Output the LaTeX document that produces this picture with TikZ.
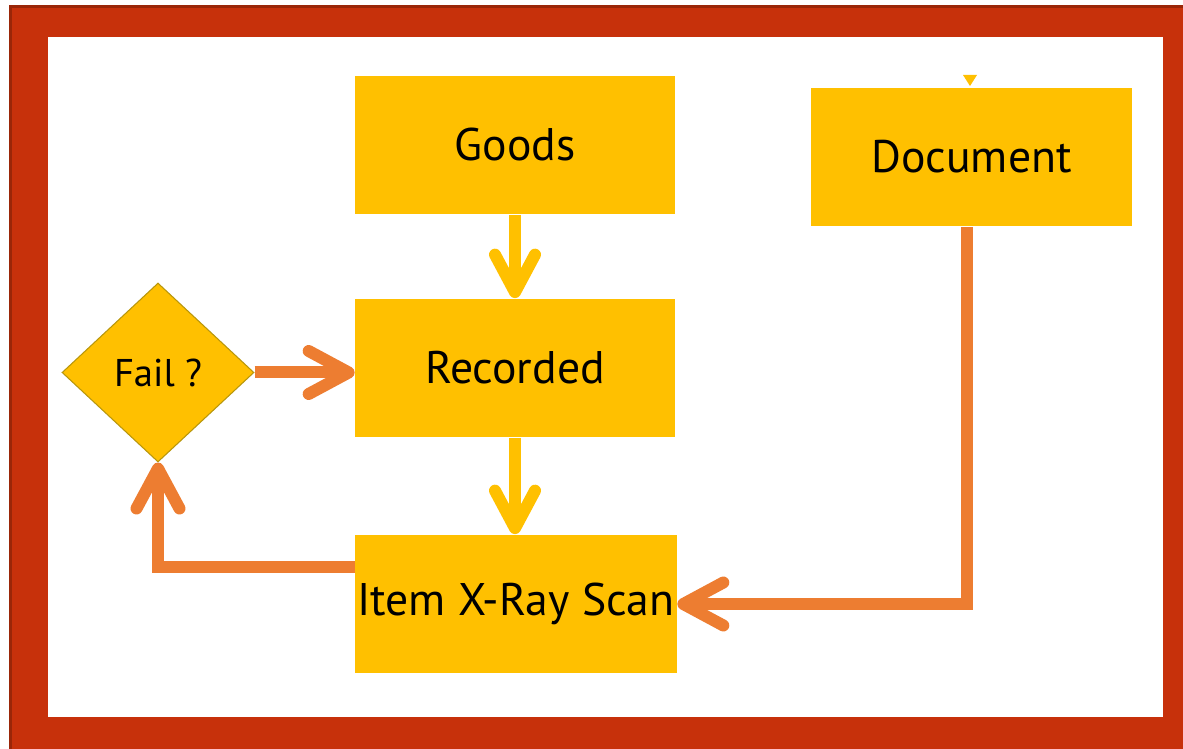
\documentclass[tikz,border=0pt]{standalone}
\usepackage{fontspec}
\setmainfont{PT Sans}
\usetikzlibrary{arrows.meta}
\usetikzlibrary{shapes.geometric}
\definecolor{frame}{HTML}{C7310B}
\definecolor{framedark}{HTML}{9A2608}
\definecolor{gold}{HTML}{FFC000}
\definecolor{golddark}{HTML}{B8960B}
\definecolor{flow}{HTML}{ED7D31}
\tikzstyle{stage}=[fill=gold, inner sep=0pt, minimum width=6.4cm, minimum height=2.78cm, font=\fontsize{26}{30}\selectfont]
\tikzstyle{check}=[diamond, draw=golddark, fill=gold, line width=0.6pt, inner sep=0pt, minimum width=3.84cm, minimum height=3.58cm, font=\fontsize{22}{26}\selectfont]
\tikzstyle{feed}=[gold, line width=0.24cm, -{Straight Barb[length=0.75cm, width=0.8cm, round]}]
\tikzstyle{back}=[flow, line width=0.24cm, -{Straight Barb[length=0.8cm, width=0.86cm, round]}]

\begin{document}
\begin{tikzpicture}[x=0.02cm, y=-0.02cm]
    \fill [white] (0,0) rectangle (1183,749);
    \fill [framedark] (9,5) rectangle (1183,749);
    \fill [frame] (12,8) rectangle (1183,749);
    \fill [white] (48,37) rectangle (1163,717);
        \node [stage] (goods) at (515,145) {Goods};
        \node [stage] (recorded) at (515,368) {Recorded};
        \node [stage, minimum width=6.44cm] (scan) at (516,604) {Item X-Ray Scan};
        \node [stage, minimum width=6.42cm] (document) at (971.5,157) {Document};
        \node [check] (fail) at (158,372.5) {Fail ?};
        \fill [gold] (963,75) -- (977,75) -- (970,86) -- cycle;
        \draw [feed] (goods) -- (recorded);
        \draw [feed] (recorded.south) -- (recorded.south |- scan.north);
        \draw [back] (fail.east) -- (fail.east -| recorded.west);
        \draw [back] ([yshift=0.74cm]scan.west) -| (fail.south);
        \draw [back] ([xshift=-0.09cm]document.south) |- (scan.east);
    \path [use as bounding box] (0,0) rectangle (1183,749);
    \end{tikzpicture}
\end{document}
